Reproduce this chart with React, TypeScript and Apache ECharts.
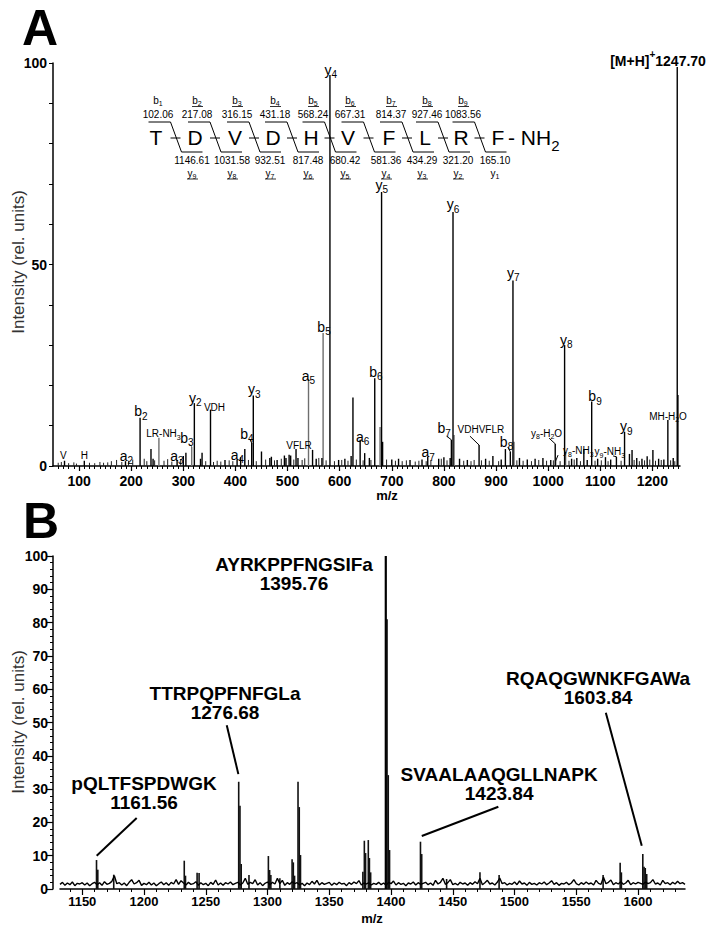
import React, { useEffect, useRef } from "react";
import * as echarts from "echarts";

const FONT = '"Liberation Sans", Arial, Helvetica, sans-serif';

// ---------------- Panel A data ----------------
const xTicksA = [100, 200, 300, 400, 500, 600, 700, 800, 900, 1000, 1100, 1200];
const yTickLabelsA = [0, 50, 100];

// major fragment peaks [m/z, rel. intensity]
const peaksA: [number, number][] = [
  [72.08, 1.3], [110.07, 1.3], [189.1, 1.2], [217.08, 12], [238, 4.2], [242, 1.8],
  [288.1, 1.5], [300, 2.5], [305, 3.3], [321.2, 15.6], [333, 1.8], [336, 3.3],
  [352.2, 14], [380, 1.5], [403.2, 1.6], [410, 2.2], [418, 4.2], [431.2, 5.7],
  [434.3, 17.5], [450, 3.6], [466, 2], [469, 2.3], [480, 1.5], [494, 2.6], [497, 2],
  [503, 2.8], [506, 2.6], [516.3, 4.2], [520, 2], [548, 4], [555, 1.8], [566, 2],
  [581.36, 97], [598, 1.5], [610, 1.8], [622, 2.5], [625.5, 17], [639.3, 6.5],
  [648, 3.2], [657, 2], [667.31, 21.8], [680.42, 68], [682.4, 6], [700, 1.6],
  [713, 1.8], [735, 1.5], [758, 1.6], [769, 2.3], [790, 1.8], [800, 2.2], [812, 2],
  [814.37, 6.5], [817.48, 63], [830, 1.8], [845, 1.5], [867.5, 5.2], [880, 1.8],
  [894, 2.5], [910, 1.6], [918, 4.2], [927.46, 3.5], [932.51, 46], [945, 2], [960, 1.6],
  [975, 1.8], [990, 2], [1005, 1.5], [1013.6, 5.5], [1031.58, 30], [1045, 1.8],
  [1055, 2], [1068.5, 4.2], [1075, 1.5], [1083.56, 16], [1095, 1.8], [1110, 2.2],
  [1120, 1.6], [1131, 2.3], [1146.61, 8.5], [1156, 3], [1161, 4], [1170, 2], [1180, 1.8],
  [1190, 2.4], [1201, 4], [1212, 1.8], [1222, 1.6], [1229.7, 11.4], [1240, 2],
  [1247.7, 99], [1249, 17.6],
];
const peaksAGrey: [number, number][] = [
  [253.2, 7], [316.15, 4.8], [540.24, 21.6], [568.24, 33], [677.5, 9.7], [819.5, 7.7],
  [934.5, 6], [1014.6, 1.5], [1033.5, 3.5],
];
const baselineA: [number, number][] = [
  [60, 0.8], [66, 1.0], [80, 0.7], [90, 0.9], [95, 0.6], [120, 0.8], [130, 0.7], [140, 1.0],
  [147, 0.8], [155, 0.9], [162, 1.2], [172, 1.5], [182, 1.0], [195, 1.3], [203, 1.6],
  [225, 1.8], [230, 1.2], [245, 1.4], [263, 1.3], [270, 1.7], [278, 1.1], [295, 1.6],
  [343, 1.2], [358, 1.0], [365, 1.3], [372, 1.1], [388, 1.4], [395, 1.2], [425, 1.5],
  [440, 1.2], [458, 1.6], [475, 1.4], [488, 1.8], [512, 1.6], [528, 1.5], [533, 1.9],
  [560, 2.0], [574, 1.4], [590, 1.2], [604, 1.5], [616, 1.3], [632, 1.6], [645, 1.4],
  [660, 1.5], [690, 1.6], [707, 1.3], [720, 1.2], [728, 1.4], [745, 1.1], [752, 1.3],
  [766, 1.2], [775, 1.5], [795, 1.8], [806, 1.4], [838, 1.3], [852, 1.2], [858, 1.5],
  [872, 1.4], [887, 1.3], [905, 1.2], [940, 1.4], [952, 1.3], [968, 1.2], [982, 1.5],
  [997, 1.3], [1010, 1.4], [1023, 1.2], [1040, 1.3], [1050, 1.6], [1062, 1.2], [1090, 1.3],
  [1102, 1.4], [1115, 1.2], [1140, 1.3], [1165, 1.5], [1175, 1.2], [1185, 1.4], [1195, 1.6],
  [1206, 1.3], [1217, 1.5], [1235, 1.4], [1243, 1.2],
];

// fragmentation scheme
const sequence = ["T", "D", "V", "D", "H", "V", "F", "L", "R", "F"];
const bIonMasses = ["102.06", "217.08", "316.15", "431.18", "568.24", "667.31", "814.37", "927.46", "1083.56"];
const yIonMasses = ["1146.61", "1031.58", "932.51", "817.48", "680.42", "581.36", "434.29", "321.20", "165.10"];

// peak annotations (anchor in data coords)
type Ann = { text: string; at: [number, number]; kind: "ion" | "small" | "mh"; leader?: [number, number, number, number] };
const annotationsA: Ann[] = [
  { text: "V", at: [70, 2.7], kind: "small" },
  { text: "H", at: [110, 2.7], kind: "small" },
  { text: "a2", at: [191, 2.6], kind: "ion" },
  { text: "b2", at: [218.7, 13.6], kind: "ion" },
  { text: "LR-NH3", at: [262, 8], kind: "small" },
  { text: "a3", at: [287.7, 2.6], kind: "ion" },
  { text: "b3", at: [306.9, 7.0], kind: "ion", leader: [312, 5.3, 316.2, 4.9] },
  { text: "y2", at: [322.8, 16.9], kind: "ion" },
  { text: "VDH", at: [359.8, 14.6], kind: "small" },
  { text: "a4", at: [403.8, 2.8], kind: "ion" },
  { text: "b4", at: [421.9, 8.0], kind: "ion", leader: [428.2, 6.5, 431.5, 5.6] },
  { text: "y3", at: [436.4, 19.1], kind: "ion" },
  { text: "VFLR", at: [522, 5.1], kind: "small" },
  { text: "a5", at: [540.2, 22.4], kind: "ion" },
  { text: "b5", at: [570, 34.5], kind: "ion" },
  { text: "y4", at: [582.9, 98.3], kind: "ion" },
  { text: "a6", at: [644.2, 7.3], kind: "ion" },
  { text: "b6", at: [669.7, 23.4], kind: "ion" },
  { text: "y5", at: [680.6, 69.8], kind: "ion" },
  { text: "a7", at: [770, 3.4], kind: "ion" },
  { text: "b7", at: [800.6, 9.4], kind: "ion", leader: [805.2, 7.4, 814.4, 6.5] },
  { text: "y6", at: [817.5, 65], kind: "ion" },
  { text: "VDHVFLR", at: [871, 9.1], kind: "small", leader: [850, 7.4, 867.5, 5.2] },
  { text: "b8", at: [920.2, 6.0], kind: "ion", leader: [922.7, 4.7, 927.5, 3.5] },
  { text: "y7", at: [933, 48], kind: "ion" },
  { text: "y8-H2O", at: [997, 8.1], kind: "small", leader: [1001.9, 6.9, 1013.6, 5.5] },
  { text: "y8-NH3", at: [1058, 3.8], kind: "small", leader: [1019, 2.7, 1014.6, 1.3] },
  { text: "y8", at: [1035, 31.3], kind: "ion" },
  { text: "b9", at: [1090, 17.3], kind: "ion" },
  { text: "y9-NH3", at: [1118.4, 3.5], kind: "small", leader: [1124.6, 2.5, 1131, 2.3] },
  { text: "y9", at: [1150, 9.9], kind: "ion" },
  { text: "MH-H2O", at: [1230, 12.4], kind: "small" },
  { text: "[M+H]+1247.70", at: [1210.8, 101.6], kind: "mh" },
];

// ---------------- Panel B data ----------------
const xTicksB = [1150, 1200, 1250, 1300, 1350, 1400, 1450, 1500, 1550, 1600];
const noiseStartB = 1132;
const noiseStepB = 2;
const noiseB = [
  1.4, 2.0, 1.1, 1.8, 1.3, 2.1, 1.0, 1.7, 1.5, 1.9,
  1.2, 1.8, 1.0, 1.6, 2.0, 1.3, 1.9, 1.1, 2.2, 1.4,
  1.7, 2.3, 4.0, 1.6, 1.9, 1.2, 1.8, 1.0, 2.0, 2.8,
  1.5, 1.9, 2.6, 1.1, 1.7, 1.3, 2.0, 1.2, 1.8, 1.0,
  1.6, 2.1, 1.3, 1.9, 1.1, 2.0, 1.5, 2.8, 1.4, 2.5,
  1.8, 1.2, 2.0, 1.4, 1.6, 2.2, 1.1, 1.9, 1.3, 1.7,
  1.0, 2.0, 1.4, 2.7, 1.2, 1.8, 1.1, 1.9, 1.5, 2.1,
  1.3, 1.7, 2.0, 1.2, 1.8, 3.2, 1.4, 2.0, 1.6, 2.8,
  1.2, 1.9, 1.0, 1.7, 2.1, 1.3, 2.0, 1.5, 3.2, 1.6,
  2.6, 1.1, 1.9, 1.4, 2.2, 1.6, 1.9, 1.2, 1.7, 1.0,
  1.8, 1.3, 2.3, 1.5, 2.6, 1.2, 1.9, 1.4, 1.7, 2.0,
  1.1, 1.8, 1.3, 2.0, 1.5, 1.7, 1.0, 1.9, 1.4, 2.1,
  1.6, 2.5, 1.2, 1.8, 1.5, 1.9, 1.2, 1.7, 1.4, 2.0,
  1.3, 1.8, 1.1, 2.0, 1.6, 2.4, 1.2, 1.9, 1.4, 1.7,
  1.0, 1.8, 1.5, 2.1, 1.2, 1.9, 1.4, 1.7, 2.0, 1.3,
  1.8, 1.1, 2.6, 1.5, 2.0, 3.2, 1.4, 1.9, 2.8, 1.3,
  1.7, 1.2, 2.0, 1.5, 1.8, 1.1, 1.9, 1.4, 2.2, 1.6,
  3.2, 1.3, 1.9, 2.6, 1.5, 1.8, 1.2, 2.0, 3.3, 1.6,
  1.9, 1.2, 1.7, 1.4, 2.1, 1.3, 2.4, 1.5, 1.8, 1.1,
  2.0, 1.4, 1.7, 1.2, 1.9, 1.5, 2.1, 1.3, 1.8, 2.5,
  1.4, 1.9, 1.1, 1.7, 1.5, 2.0, 1.3, 1.8, 2.8, 1.6,
  1.2, 1.9, 1.4, 2.1, 1.5, 1.8, 1.2, 2.6, 1.7, 1.4,
  3.5, 1.6, 2.0, 2.7, 1.3, 1.9, 1.5, 2.2, 1.4, 1.8,
  2.6, 1.3, 1.9, 1.5, 2.0, 1.7, 1.4, 2.1, 1.6, 1.9,
  2.8, 1.5, 1.8, 1.2, 2.6, 1.6, 1.9, 1.3, 2.0, 1.5,
  2.3, 1.6, 1.9, 1.4,
];
const peaksB: [number, number][] = [
  [1161.56, 8.7], [1162.6, 5.8], [1175.5, 4.3], [1232.6, 8.5], [1233.6, 4], [1243.0, 4.9],
  [1244.6, 4.8], [1276.68, 32.2], [1277.7, 25], [1278.7, 7.5], [1285.0, 4.2], [1300.7, 9.9],
  [1301.7, 5.7], [1302.7, 4.2], [1310, 3.2], [1319.9, 8.9], [1320.9, 8], [1321.9, 4],
  [1324.7, 32.2], [1325.7, 24.6], [1326.7, 10.2], [1377.2, 5.2], [1378.4, 14.5],
  [1379.4, 10.8], [1381.6, 14.7], [1382.5, 9.3], [1383.5, 5], [1396.76, 81],
  [1397.76, 34.2], [1398.8, 11.7], [1423.84, 14.2], [1424.84, 10.5], [1445, 3], [1472, 5],
  [1487.5, 4.2], [1571.7, 4.2], [1585.5, 7.9], [1586.5, 5], [1603.84, 10.5], [1604.84, 6.7],
  [1605.84, 6.3], [1607, 4.5],
];
const basePeakB: [number, number][] = [[1395.76, 100]];

type AnnB = { text: string; at: [number, number]; leader: [number, number, number, number] };
const annotationsB: AnnB[] = [
  { text: "pQLTFSPDWGK\n1161.56", at: [1200, 28.7], leader: [1194.1, 21.3, 1161.7, 10] },
  { text: "TTRPQPFNFGLa\n1276.68", at: [1265.6, 56], leader: [1267, 49.2, 1276.4, 34.5] },
  { text: "AYRKPPFNGSIFa\n1395.76", at: [1321.5, 94.6], leader: [0, 0, 0, 0] },
  { text: "SVAALAAQGLLNAPK\n1423.84", at: [1487.5, 31.4], leader: [1486.9, 24.7, 1424.9, 15.9] },
  { text: "RQAQGWNKFGAWa\n1603.84", at: [1567.6, 60.5], leader: [1573.9, 52.9, 1603, 13] },
];

// ---------------- helpers ----------------
function richSub(s: string): string {
  return s.replace(/(\d+)|([^\d]+)/g, (_m, d, t) => (d ? `{s|${d}}` : `{m|${t}}`));
}
function richStyles(main: number, sub: number, bold = false) {
  const fw = bold ? "bold" : "normal";
  return {
    m: { fontSize: main, lineHeight: main, verticalAlign: "top", fontFamily: FONT, fontWeight: fw, fill: "#000" },
    s: {
      fontSize: sub, lineHeight: sub, verticalAlign: "top", fontFamily: FONT, fontWeight: fw, fill: "#000",
      padding: [Math.round(main * 0.5), 0, 0, 0],
    },
  };
}

function stickSeries(data: [number, number][], axis: number, color: string, width: number) {
  return {
    type: "custom",
    xAxisIndex: axis,
    yAxisIndex: axis,
    data,
    clip: false,
    silent: true,
    encode: { x: 0, y: 1 },
    renderItem: (_p: any, api: any) => {
      const x = api.value(0);
      const y = api.value(1);
      const p0 = api.coord([x, 0]);
      const p1 = api.coord([x, y]);
      return {
        type: "line",
        shape: { x1: p0[0], y1: p0[1], x2: p1[0], y2: p1[1] },
        style: { stroke: color, lineWidth: width },
      };
    },
  };
}

function textEl(x: number, y: number, text: string, style: any, extra: any = {}) {
  return {
    type: "text",
    x,
    y,
    silent: true,
    ...extra,
    style: { text, align: "center", verticalAlign: "middle", fill: "#000", fontFamily: FONT, ...style },
  };
}
function lineEl(x1: number, y1: number, x2: number, y2: number, w = 1, c = "#000") {
  return { type: "line", silent: true, shape: { x1, y1, x2, y2 }, style: { stroke: c, lineWidth: w } };
}

// layout of the sequence scheme (pixels)
const seqX = [156, 195, 235, 273, 311, 348, 389, 425, 461, 498];
const seqY = 137;

function buildScheme() {
  const els: any[] = [];
  sequence.forEach((aa, i) => {
    els.push(textEl(seqX[i], seqY, aa, { fontSize: 21 }));
  });
  els.push({
    type: "text", x: 508, y: seqY, silent: true,
    style: { text: "{m|- NH}{s|2}", align: "left", verticalAlign: "middle", rich: richStyles(21, 15) },
  });
  for (let i = 0; i < sequence.length - 1; i++) {
    const c = (seqX[i] + seqX[i + 1]) / 2;
    els.push(lineEl(c - 27, 122, c - 5, 122));
    els.push(lineEl(c - 5, 122, c + 6, 152));
    els.push(lineEl(c + 6, 152, c + 27, 152));
    els.push(lineEl(c - 5, 138, c + 5, 138));
    // b ion
    const bx = seqX[i] + 2;
    els.push({
      type: "text", x: bx, y: 100, silent: true,
      style: { text: richSub("b" + (i + 1)), align: "center", verticalAlign: "middle", rich: richStyles(10, 7) },
    });
    els.push(textEl(bx, 114, bIonMasses[i], { fontSize: 10 }));
    if (i > 0) els.push(lineEl(bx - 5, 106.5, bx + 6, 106.5, 0.8));
    // y ion
    const yx = seqX[i + 1] - 3;
    const yn = sequence.length - 1 - i;
    els.push(textEl(yx, 160, yIonMasses[i], { fontSize: 10 }));
    els.push({
      type: "text", x: yx, y: 173, silent: true,
      style: { text: richSub("y" + yn), align: "center", verticalAlign: "middle", rich: richStyles(10, 7) },
    });
    if (yn > 1) els.push(lineEl(yx - 5, 179, yx + 6, 179, 0.8));
  }
  return els;
}

export default function App() {
  const ref = useRef<HTMLDivElement>(null);
  useEffect(() => {
    document.body.style.margin = "0";
    const chart = echarts.init(ref.current!, undefined, { renderer: "svg" });

    const minA = 50, maxA = 1253;
    const minB = 1132, maxB = 1638;
    const minorA: number[] = [];
    for (let v = 60; v <= 1250; v += 10) if (v % 100 !== 0) minorA.push(v);
    const minorB: number[] = [];
    for (let v = 1140; v <= 1630; v += 10) if (v % 50 !== 0) minorB.push(v);

    const axisLineStyle = { color: "#000", width: 1.5 };
    const tickLabel = { color: "#000", fontWeight: "bold", fontFamily: FONT };
    const plain = (v: number) => String(v);

    const annSeriesA = {
      type: "custom",
      xAxisIndex: 0,
      yAxisIndex: 0,
      clip: false,
      silent: true,
      z: 5,
      data: annotationsA.map((a) => a.at),
      renderItem: (p: any, api: any) => {
        const a = annotationsA[p.dataIndex];
        const pt = api.coord(a.at);
        const children: any[] = [];
        let style: any;
        if (a.kind === "mh") {
          style = {
            text: "{m|[M+H]}{p|+}{m|1247.70}",
            rich: {
              m: { fontSize: 14, fontWeight: "bold", fontFamily: FONT, lineHeight: 14, padding: [4, 0, 0, 0], verticalAlign: "top", fill: "#000" },
              p: { fontSize: 10, fontWeight: "bold", fontFamily: FONT, lineHeight: 10, verticalAlign: "top", fill: "#000" },
            },
          };
        } else if (a.kind === "ion") {
          style = { text: richSub(a.text), rich: richStyles(14, 10) };
        } else {
          style = { text: richSub(a.text), rich: richStyles(10, 7) };
        }
        children.push({
          type: "text", x: pt[0], y: pt[1],
          style: { ...style, align: "center", verticalAlign: "middle", fill: "#000" },
        });
        if (a.leader) {
          const q1 = api.coord([a.leader[0], a.leader[1]]);
          const q2 = api.coord([a.leader[2], a.leader[3]]);
          children.push({ type: "line", shape: { x1: q1[0], y1: q1[1], x2: q2[0], y2: q2[1] }, style: { stroke: "#000", lineWidth: 1 } });
        }
        return { type: "group", children };
      },
    };

    const annSeriesB = {
      type: "custom",
      xAxisIndex: 1,
      yAxisIndex: 1,
      clip: false,
      silent: true,
      z: 5,
      data: annotationsB.map((a) => a.at),
      renderItem: (p: any, api: any) => {
        const a = annotationsB[p.dataIndex];
        const pt = api.coord(a.at);
        const children: any[] = [
          {
            type: "text", x: pt[0], y: pt[1],
            style: {
              text: a.text, align: "center", verticalAlign: "middle", fill: "#000",
              fontSize: 19, fontWeight: "bold", fontFamily: FONT, lineHeight: 19,
            },
          },
        ];
        if (a.leader[0] > 0) {
          const q1 = api.coord([a.leader[0], a.leader[1]]);
          const q2 = api.coord([a.leader[2], a.leader[3]]);
          children.push({ type: "line", shape: { x1: q1[0], y1: q1[1], x2: q2[0], y2: q2[1] }, style: { stroke: "#000", lineWidth: 2 } });
        }
        return { type: "group", children };
      },
    };

    const option: any = {
      animation: false,
      backgroundColor: "#fff",
      grid: [
        { left: 53, top: 63, width: 627, height: 403 },
        { left: 60, top: 556, width: 625, height: 333 },
        { left: 53, top: 63, width: 627, height: 403 },
        { left: 60, top: 556, width: 625, height: 333 },
      ],
      xAxis: [
        {
          gridIndex: 0, type: "value", min: minA, max: maxA,
          axisLine: { show: true, onZero: false, lineStyle: axisLineStyle },
          axisTick: { show: true, length: 5, lineStyle: { color: "#000", width: 1.2 }, customValues: xTicksA },
          axisLabel: { ...tickLabel, fontSize: 14, margin: 8, customValues: xTicksA, formatter: plain },
          splitLine: { show: false },
        },
        {
          gridIndex: 1, type: "value", min: minB, max: maxB,
          axisLine: { show: true, onZero: false, lineStyle: axisLineStyle },
          axisTick: { show: true, length: 6, lineStyle: { color: "#000", width: 1.2 }, customValues: xTicksB },
          axisLabel: { ...tickLabel, fontSize: 13, margin: 6, customValues: xTicksB, formatter: plain },
          splitLine: { show: false },
        },
        {
          gridIndex: 2, type: "value", min: minA, max: maxA,
          axisLine: { show: false },
          axisTick: { show: true, length: 3, lineStyle: { color: "#000", width: 1 }, customValues: minorA },
          axisLabel: { show: false, customValues: minorA },
          splitLine: { show: false },
        },
        {
          gridIndex: 3, type: "value", min: minB, max: maxB,
          axisLine: { show: false },
          axisTick: { show: true, length: 3, lineStyle: { color: "#000", width: 1 }, customValues: minorB },
          axisLabel: { show: false, customValues: minorB },
          splitLine: { show: false },
        },
      ],
      yAxis: [
        {
          gridIndex: 0, type: "value", min: 0, max: 100, interval: 10,
          axisLine: { show: true, lineStyle: axisLineStyle },
          axisTick: { show: true, length: 4, lineStyle: { color: "#000", width: 1 } },
          axisLabel: {
            ...tickLabel, fontSize: 14, margin: 6,
            formatter: (v: number) => (yTickLabelsA.indexOf(v) >= 0 ? String(v) : ""),
          },
          splitLine: { show: false },
        },
        {
          gridIndex: 1, type: "value", min: 0, max: 100, interval: 10, offset: 7,
          axisLine: { show: true, lineStyle: axisLineStyle },
          axisTick: { show: true, length: 6, lineStyle: { color: "#000", width: 1.2 } },
          minorTick: { show: true, splitNumber: 5, length: 3, lineStyle: { color: "#000", width: 1 } },
          axisLabel: { ...tickLabel, fontSize: 14, margin: 5, formatter: plain },
          splitLine: { show: false },
        },
        { gridIndex: 2, type: "value", min: 0, max: 100, show: false },
        { gridIndex: 3, type: "value", min: 0, max: 100, show: false },
      ],
      series: [
        stickSeries(baselineA, 0, "#222", 1),
        stickSeries(peaksAGrey, 0, "#6e6e6e", 1.4),
        stickSeries(peaksA, 0, "#000", 1.4),
        {
          type: "line",
          xAxisIndex: 1,
          yAxisIndex: 1,
          data: noiseB.map((v, i) => [noiseStartB + i * noiseStepB, v]),
          showSymbol: false,
          symbol: "none",
          lineStyle: { color: "#000", width: 1.4 },
          silent: true,
          z: 2,
        },
        stickSeries(peaksB, 1, "#111", 1.6),
        stickSeries(basePeakB, 1, "#000", 2.2),
        annSeriesA,
        annSeriesB,
      ],
      graphic: {
        elements: [
          textEl(40, 28, "A", { fontSize: 50, fontWeight: "bold" }),
          textEl(41, 521, "B", { fontSize: 50, fontWeight: "bold" }),
          textEl(18, 262, "Intensity (rel. units)", { fontSize: 17, fill: "#333" }, { rotation: Math.PI / 2 }),
          textEl(18, 722, "Intensity (rel. units)", { fontSize: 17, fill: "#333" }, { rotation: Math.PI / 2 }),
          textEl(387, 495, "m/z", { fontSize: 13, fontWeight: "bold" }),
          textEl(372, 918, "m/z", { fontSize: 13, fontWeight: "bold" }),
          ...buildScheme(),
        ],
      },
    };
    chart.setOption(option);
    return () => chart.dispose();
  }, []);
  return <div ref={ref} style={{ position: "absolute", left: 0, top: 0, width: 715, height: 932 }} />;
}
